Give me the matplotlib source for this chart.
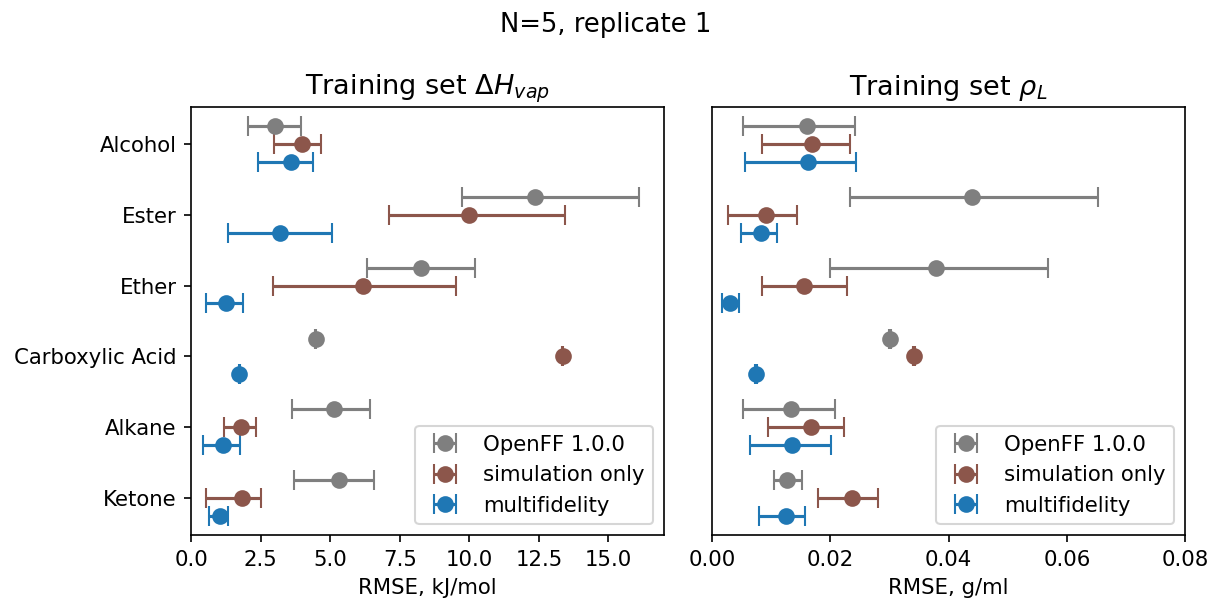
import matplotlib
matplotlib.use("Agg")
import matplotlib.pyplot as plt
import numpy as np

categories = ["Alcohol", "Ester", "Ether", "Carboxylic Acid", "Alkane", "Ketone"]
series_names = ["OpenFF 1.0.0", "simulation only", "multifidelity"]
colors = ["#7f7f7f", "#8c564b", "#1f77b4"]

# Heat of vaporization RMSE (kJ/mol): centre, lower bound, upper bound
hvap_openff = [3.02, 12.37, 8.27, 4.48, 5.13, 5.32]
hvap_openff_lo = [2.04, 9.74, 6.33, 4.46, 3.62, 3.71]
hvap_openff_hi = [3.94, 16.10, 10.19, 4.50, 6.42, 6.57]
hvap_sim = [4.00, 10.00, 6.18, 13.36, 1.81, 1.83]
hvap_sim_lo = [2.97, 7.13, 2.96, 13.34, 1.20, 0.54]
hvap_sim_hi = [4.67, 13.44, 9.53, 13.38, 2.35, 2.52]
hvap_multi = [3.61, 3.21, 1.26, 1.73, 1.14, 1.03]
hvap_multi_lo = [2.42, 1.32, 0.54, 1.71, 0.42, 0.64]
hvap_multi_hi = [4.39, 5.06, 1.86, 1.75, 1.76, 1.32]

# Density RMSE (g/ml)
rho_openff = [0.0160, 0.0439, 0.0378, 0.0301, 0.0134, 0.0127]
rho_openff_lo = [0.0053, 0.0234, 0.0199, 0.0299, 0.0053, 0.0105]
rho_openff_hi = [0.0242, 0.0653, 0.0568, 0.0303, 0.0208, 0.0152]
rho_sim = [0.0169, 0.0092, 0.0156, 0.0341, 0.0168, 0.0236]
rho_sim_lo = [0.0085, 0.0027, 0.0085, 0.0339, 0.0095, 0.0179]
rho_sim_hi = [0.0234, 0.0143, 0.0229, 0.0343, 0.0223, 0.0281]
rho_multi = [0.0162, 0.0083, 0.0031, 0.0074, 0.0136, 0.0125]
rho_multi_lo = [0.0055, 0.0049, 0.0016, 0.0072, 0.0065, 0.0079]
rho_multi_hi = [0.0244, 0.0109, 0.0046, 0.0076, 0.0201, 0.0158]

plt.rcParams["font.size"] = 10.2

fig = plt.figure(figsize=(8.08, 4.0), dpi=150)
ax1 = fig.add_axes([0.1576, 0.1083, 0.3903, 0.7133])
ax2 = fig.add_axes([0.5875, 0.1083, 0.3903, 0.7133])

offsets = [-0.25, 0.0, 0.25]
ypos = np.arange(len(categories))

def draw(ax, data):
    for k, (c, lo, hi) in enumerate(data):
        c = np.array(c); lo = np.array(lo); hi = np.array(hi)
        ax.errorbar(c, ypos + offsets[k], xerr=[c - lo, hi - c], fmt="o",
                    color=colors[k], markersize=7, capsize=5, lw=1.5,
                    label=series_names[k])

draw(ax1, [(hvap_openff, hvap_openff_lo, hvap_openff_hi),
           (hvap_sim, hvap_sim_lo, hvap_sim_hi),
           (hvap_multi, hvap_multi_lo, hvap_multi_hi)])
draw(ax2, [(rho_openff, rho_openff_lo, rho_openff_hi),
           (rho_sim, rho_sim_lo, rho_sim_hi),
           (rho_multi, rho_multi_lo, rho_multi_hi)])

ax1.set_yticks(ypos)
ax1.set_yticklabels(categories)
ax1.invert_yaxis()
ax2.set_yticks([])
ax2.set_ylim(ax1.get_ylim())

ax1.set_xlim(0, 17.0)
ax1.set_xticks([0, 2.5, 5, 7.5, 10, 12.5, 15])
ax2.set_xlim(0, 0.08)
ax2.set_xticks([0, 0.02, 0.04, 0.06, 0.08])

ax1.set_xlabel("RMSE, kJ/mol")
ax2.set_xlabel("RMSE, g/ml")
ax1.set_title(r"Training set $\Delta H_{vap}$", fontsize=13)
ax2.set_title(r"Training set $\rho_L$", fontsize=13)

ax1.legend(loc="lower right")
ax2.legend(loc="lower right")

fig.suptitle("N=5, replicate 1", fontsize=12.4, y=0.98)

fig.savefig("out.png", dpi=150)
